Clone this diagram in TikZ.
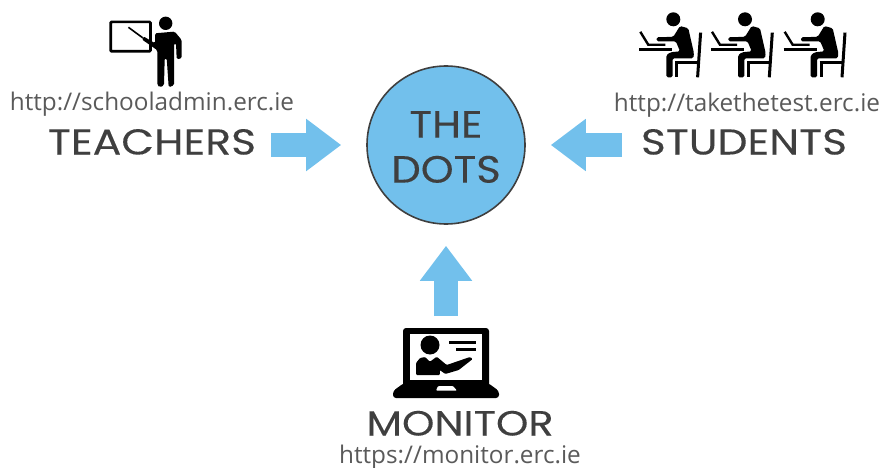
\documentclass[tikz,border=0pt]{standalone}
\usepackage{fontspec}
\setmainfont{Poppins}[FakeStretch=1.18,FakeBold=0.15]
\newfontfamily\dotsfont{Poppins}[FakeStretch=1.1,FakeBold=0.15]
\newfontfamily\urlfont{Open Sans}
\usetikzlibrary{arrows.meta}
\definecolor{dotsblue}{HTML}{72C0EC}
\definecolor{labelgrey}{HTML}{3F3F3F}
\definecolor{urlgrey}{HTML}{5A5A5A}
\tikzset{
  biglabel/.style={text=labelgrey,font=\fontsize{36}{36}\selectfont,inner sep=0pt,text height=25pt,text depth=0pt},
  urllabel/.style={text=urlgrey,font=\urlfont\fontsize{24.3}{24}\selectfont,inner sep=0pt,text height=18pt,text depth=5pt},
  dotsnode/.style={circle,draw=labelgrey,line width=1.6pt,fill=dotsblue,minimum size=158pt,inner sep=0pt},
  dotslabel/.style={text=labelgrey,align=center,inner sep=0pt,font=\dotsfont\fontsize{38}{45}\selectfont},
  blockarrow/.style={draw=dotsblue,line width=24pt,-{Triangle[length=35pt,width=50pt]}},
  pics/student/.style={code={
    \fill (0,0) circle (7);
    \draw[line width=2.4pt] (-33,12.5) -- (-25,25.5) -- (-8,25.5);
    \draw[line width=2.6pt] (-34,30) -- (-1,30);
    \fill[rounded corners=1.5pt] (6.7,6.7) -- (15,9) -- (20.7,34) -- (20,39) -- (-0.7,39)
      -- (-0.7,58) -- (-7,58) -- (-7,36) -- (-3,33) -- (6.7,32) -- (2.5,22) -- (-16.7,22) -- (-16.7,18) -- (0,17.5) -- cycle;
    \draw[line width=3pt] (27.3,13.3) -- (24.3,58);
    \draw[line width=3pt] (2,43.5) -- (25,43.5);
    \draw[line width=3pt] (3.3,43.5) -- (3.3,58);
  }},
  pics/teacher/.style={code={
    \draw[line width=2.7pt,rounded corners=1pt] (-55,-1.4) rectangle (-15.3,28);
    \draw[line width=1.6pt] (-37.3,4) -- (-23,14.5);
    \fill (0,0) circle (6.7);
    \fill[rounded corners=1.5pt] (-10.7,10) -- (9,8.3) -- (16,16.7) -- (16,35) -- (11,36) -- (10.3,20) -- (8.3,20)
      -- (8.3,62) -- (3,64) -- (1,35) -- (-1,35) -- (-1.7,62) -- (-5.7,64) -- (-8.3,62)
      -- (-8.3,27) -- (-24,16) -- (-22.3,13) -- (-10.7,20) -- cycle;
  }},
  pics/laptop/.style={code={
    \fill[rounded corners=3pt] (-43,-17) rectangle (43,42);
    \fill[rounded corners=3pt] (-42,38) -- (42,38) -- (53,46) -- (53,53) -- (-53,53) -- (-53,46) -- cycle;
    \fill[white] (-36,-11) rectangle (36,34.5);
    \fill[white,rounded corners=1pt] (-8,41) -- (7,41) -- (11,45.7) -- (-10,45.7) -- cycle;
    \fill (-16,0) circle (9.5);
    \fill[rounded corners=1pt] (-30,30) -- (-30,18) -- (-26,13) -- (-21,12) -- (-16,16.7) -- (-9.3,11.7) -- (0.7,20)
      -- (24,12) -- (26.7,14) -- (12.7,25) -- (-0.7,29) -- (-6.3,25) -- (-6,30) -- cycle;
    \draw[line width=2.7pt] (3.3,-2.3) -- (30,-2.3);
    \draw[line width=2.7pt] (10,4.3) -- (30,4.3);
  }},
}
\begin{document}
\begin{tikzpicture}[x=1pt,y=-1pt]
    \useasboundingbox (0,0) rectangle (883,468);
    \node[dotsnode] (dots) at (446,145) {};
    \node[dotslabel] (dotstext) at ([yshift=-2pt]dots.center) {THE\\DOTS};
    % labels
    \node[biglabel] (teachers) at (152,142) {TEACHERS};
    \node[biglabel] (students) at (744,142) {STUDENTS};
    \node[biglabel,font=\fontsize{35}{35}\selectfont] (monitor) at (460,423) {MONITOR};
    \node[urllabel] (teacherurl) at (152,104) {http://schooladmin.erc.ie};
    \node[urllabel] (studenturl) at (747,105) {http://takethetest.erc.ie};
    \node[urllabel] (monitorurl) at (460,457) {https://monitor.erc.ie};
    % icons
    \pic at (165.7,23.3) {teacher};
    \foreach \x in {673.3,745,817.7}
    \pic at (\x,19.3) {student};
    \coordinate (laptoptop) at (446,328);
    \pic at (446,345) {laptop};
    % arrows
    \draw[blockarrow,shorten <=15pt,shorten >=25pt] (teachers.east |- dots) -- (dots.west);
    \draw[blockarrow,shorten <=19pt,shorten >=25pt] (students.west |- dots) -- (dots.east);
    \draw[blockarrow,shorten <=12pt,shorten >=21pt] (laptoptop) -- (dots.south);
\end{tikzpicture}
\end{document}
